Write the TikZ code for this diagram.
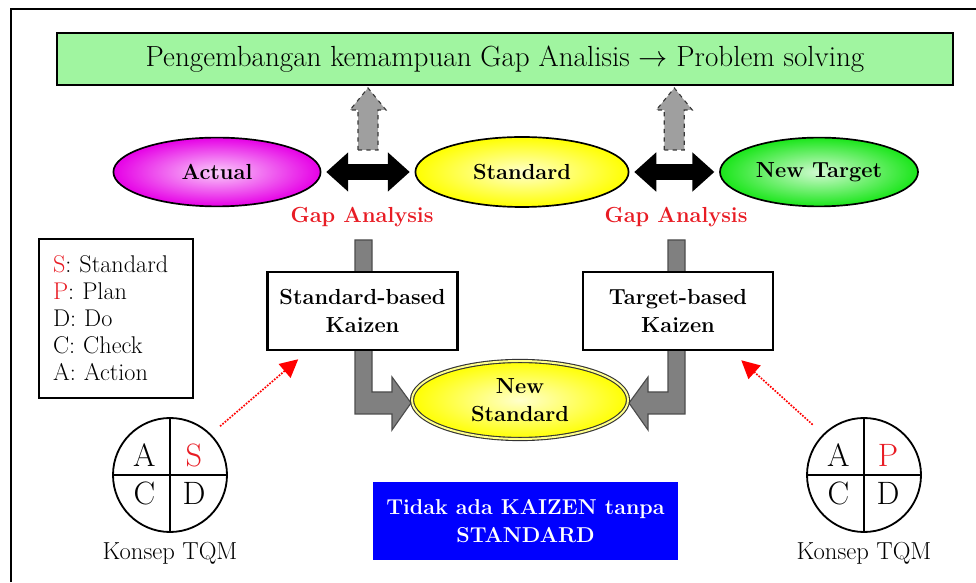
\documentclass[tikz,border=0pt]{standalone}
\usepackage{tikz}
\usetikzlibrary{shapes.geometric, arrows.meta, positioning, calc}
\definecolor{gapred}{HTML}{E81C24}
\definecolor{topgreen}{HTML}{A0F5A0}
\definecolor{actualcolor}{HTML}{E600E6}
\definecolor{stdcolor}{HTML}{FFFF00}
\definecolor{targetcolor}{HTML}{1AE61A}
\definecolor{mottoblue}{HTML}{0000FF}
\definecolor{shaftgray}{HTML}{808080}

\begin{document}
\begin{tikzpicture}[
    topbox/.style={rectangle, draw=black, line width=2pt, fill=topgreen, minimum width=22.4cm, minimum height=1.3cm, font=\fontsize{20.7}{24}\selectfont},
    oval/.style={ellipse, draw=black, line width=1.2pt, inner color=#1!20, outer color=#1, minimum width=5.2cm, minimum height=1.72cm, inner sep=0pt, align=center, font=\bfseries\fontsize{15.5}{20}\selectfont},
    kaizen/.style={rectangle, draw=black, line width=1.8pt, fill=white, minimum width=4.75cm, minimum height=1.95cm, align=center, font=\bfseries\fontsize{15.5}{20}\selectfont},
    gaplabel/.style={text=gapred, font=\bfseries\fontsize{15.5}{20}\selectfont},
    gaparrow/.style={draw=black, line width=0.4cm, {Triangle[length=0.55cm, width=0.95cm]}-{Triangle[length=0.55cm, width=0.95cm]}, shorten <=0.12cm, shorten >=0.12cm},
    uparrow/.style={fill=gray!75, draw=gray!45!black, dashed, line width=0.8pt},
    bentarrow/.style={fill=shaftgray, draw=black!70, line width=0.8pt},
    pdca/.style={circle, draw=black, line width=1.3pt, minimum size=2.85cm, inner sep=0pt},
    letter/.style={font=\fontsize{23}{23}\selectfont},
    plain/.style={font=\fontsize{17.5}{19}\selectfont},
    dotarrow/.style={-{Triangle[length=0.45cm, width=0.45cm]}, draw=red, densely dotted, line width=1.2pt}
]
\useasboundingbox (0,0) rectangle (24.4,14.55);
% frame
\draw[line width=1pt] (0.275,0) -- (0.275,14.325) -- (24.4,14.325);

% bent arrows into the new standard
\draw[bentarrow] (8.875,8.55) -- (9.3,8.55) -- (9.3,4.75) -- (9.8,4.75) -- (9.8,5.125) -- (10.275,4.475)
    -- (9.8,3.8) -- (9.8,4.2) -- (8.875,4.2) -- cycle;
\draw[bentarrow] (17.125,8.55) -- (16.7,8.55) -- (16.7,4.75) -- (16.2,4.75) -- (16.2,5.125) -- (15.725,4.475)
    -- (16.2,3.8) -- (16.2,4.2) -- (17.125,4.2) -- cycle;

\node[topbox] (goal) at (12.625,13.075) {Pengembangan kemampuan Gap Analisis $\rightarrow$ Problem solving};

\node[oval=actualcolor, minimum width=5.18cm] (actual) at (5.425,10.25) {Actual};
\node[oval=stdcolor, minimum width=5.33cm, minimum height=1.75cm] (standard) at (13.05,10.25) {Standard};
\node[oval=targetcolor, minimum width=4.95cm] (target) at (20.475,10.25) {New Target};

\draw[gaparrow] (actual.east) -- (standard.west);
\draw[gaparrow] (standard.east) -- (target.west);

\coordinate (upL) at ($(actual.east)!0.5!(standard.west)+(0,0.55)$);
\coordinate (upR) at ($(standard.east)!0.5!(target.west)+(0,0.55)$);
\foreach \c in {upL, upR}
    \draw[uparrow, shift={(\c)}] (-0.25,0) -- (-0.25,1.0) -- (-0.45,1.0) -- (0,1.55) -- (0.45,1.0) -- (0.25,1.0) -- (0.25,0) -- cycle;

\node[gaplabel] (gapL) at (9.05,9.125) {Gap Analysis};
\node[gaplabel] (gapR) at (16.9,9.125) {Gap Analysis};

\node[kaizen] (kaizenL) at (9.0625,6.775) {Standard-based\\Kaizen};
\node[kaizen] (kaizenR) at (16.95,6.775) {Target-based\\Kaizen};

\node[oval=stdcolor, minimum width=5.4cm, minimum height=1.95cm, draw=black!80, line width=0.8pt,
    double=stdcolor!45!white, double distance=1.4pt] (newstd) at (13,4.55) {New\\Standard};

\node[rectangle, fill=mottoblue, text=white, minimum width=7.625cm, minimum height=1.95cm, align=center,
    font=\bfseries\fontsize{15.3}{19.5}\selectfont] (motto) at (13.1375,1.525) {Tidak ada KAIZEN tanpa\\STANDARD};

\node[rectangle, draw=black, line width=1.2pt, minimum width=3.85cm, minimum height=3.975cm, text width=3.15cm,
    align=left, font=\fontsize{17.2}{19.2}\selectfont] (legend) at (2.9,6.5875)
    {\textcolor{gapred}{S}: Standard\\\textcolor{gapred}{P}: Plan\\D: Do\\C: Check\\A: Action};

% TQM circles
\node[pdca] (tqmL) at (4.25,2.675) {};
\node[pdca] (tqmR) at (21.6,2.675) {};
\foreach \side/\first in {L/S, R/P} {
    \draw[line width=1.3pt] (tqm\side.north) -- (tqm\side.south) (tqm\side.west) -- (tqm\side.east);
    \node[letter] (a\side) at ($(tqm\side.center)+(-0.64,0.5)$) {A};
    \node[letter, text=gapred] (f\side) at ($(tqm\side.center)+(0.6,0.5)$) {\first};
    \node[letter] (c\side) at ($(tqm\side.center)+(-0.64,-0.45)$) {C};
    \node[letter] (d\side) at ($(tqm\side.center)+(0.6,-0.45)$) {D};
    \node[plain, below=0.1cm of tqm\side] (konsep\side) {Konsep TQM};
}

\coordinate (tipL) at ($(kaizenL.south west)+(0.8,-0.2)$);
\coordinate (tipR) at ($(kaizenR.south east)+(-0.825,-0.225)$);
\draw[dotarrow, shorten <=0.3cm] (tqmL.45) -- (tipL);
\draw[dotarrow, shorten <=0.35cm] (tqmR.135) -- (tipR);
\end{tikzpicture}
\end{document}
